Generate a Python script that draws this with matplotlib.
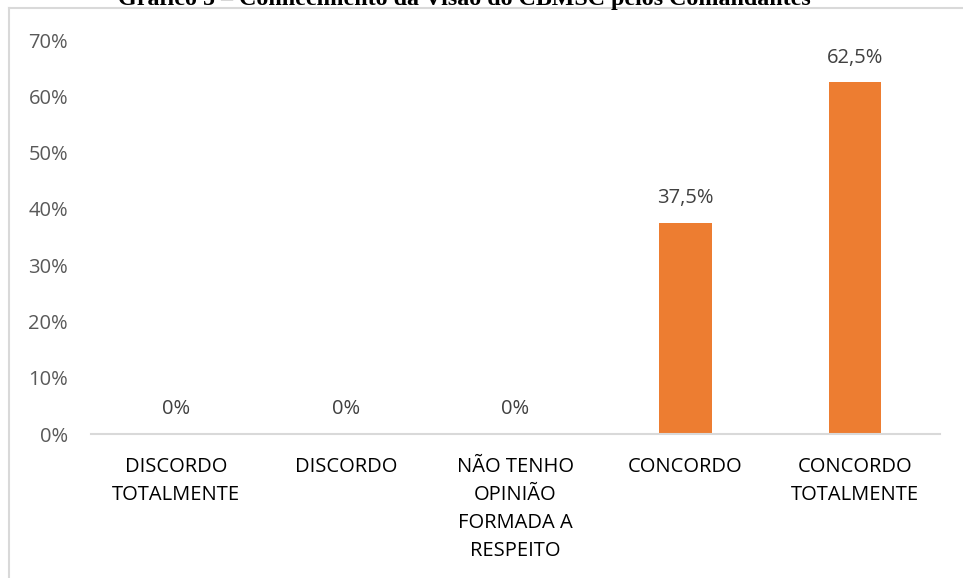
import matplotlib
matplotlib.use("Agg")
import matplotlib.pyplot as plt
from matplotlib.lines import Line2D
from matplotlib.ticker import FuncFormatter

categories = ["DISCORDO\nTOTALMENTE", "DISCORDO", "NÃO TENHO\nOPINIÃO\nFORMADA A\nRESPEITO", "CONCORDO", "CONCORDO\nTOTALMENTE"]
values = [0.0, 0.0, 0.0, 0.375, 0.625]
value_labels = ["0%", "0%", "0%", "37,5%", "62,5%"]
yticks = [0, 0.1, 0.2, 0.3, 0.4, 0.5, 0.6, 0.7]
title = "Gráfico 5 – Conhecimento da Visão do CBMSC pelos Comandantes"

W, H, DPI = 963, 578, 100
fig = plt.figure(figsize=(W / DPI, H / DPI), dpi=DPI)
fig.patch.set_facecolor("white")

FONT = "Open Sans"
FS = 14.5

ax = fig.add_axes([91 / W, 1 - 434 / H, (940 - 91) / W, (434 - 40) / H])
x = list(range(len(categories)))
bars = ax.bar(x, values, width=0.31, color="#ED7D31", zorder=2)
ax.set_xlim(-0.5, len(categories) - 0.5)
ax.set_ylim(0, 0.7)
ax.set_yticks(yticks)
ax.yaxis.set_major_formatter(FuncFormatter(lambda v, p: f"{v*100:.0f}%"))
ax.set_xticks(x)
ax.set_xticklabels(categories, fontsize=FS, family=FONT, color="#000000", linespacing=1.54, va="top")
for lab in ax.get_yticklabels():
    lab.set_fontsize(FS)
    lab.set_family(FONT)
    lab.set_color("#595959")
ax.tick_params(axis="y", length=0, pad=16.5)
ax.tick_params(axis="x", length=0, pad=16.5)
for s in ["top", "right", "left"]:
    ax.spines[s].set_visible(False)
ax.spines["bottom"].set_color("#D9D9D9")
ax.spines["bottom"].set_linewidth(1.5)
ax.patch.set_alpha(0)

for xi, v, lab in zip(x, values, value_labels):
    ax.annotate(lab, (xi, v), xytext=(0, 10.5), textcoords="offset points",
                ha="center", va="bottom", fontsize=FS, family=FONT, color="#404040")

# chart border (partially visible)
fig.add_artist(Line2D([9 / W, 9 / W], [0, 1 - 8 / H], transform=fig.transFigure, color="#D9D9D9", lw=1.5))
fig.add_artist(Line2D([9 / W, 1], [1 - 8 / H, 1 - 8 / H], transform=fig.transFigure, color="#D9D9D9", lw=1.5))

# title (cut off at the top, as in the source)
fig.text(464 / W, 1 - 4.5 / H, title, ha="center", va="baseline", fontsize=17.3,
         family="Liberation Serif", fontweight="bold", color="#000000")

fig.savefig("out.png", dpi=DPI, facecolor="white")
